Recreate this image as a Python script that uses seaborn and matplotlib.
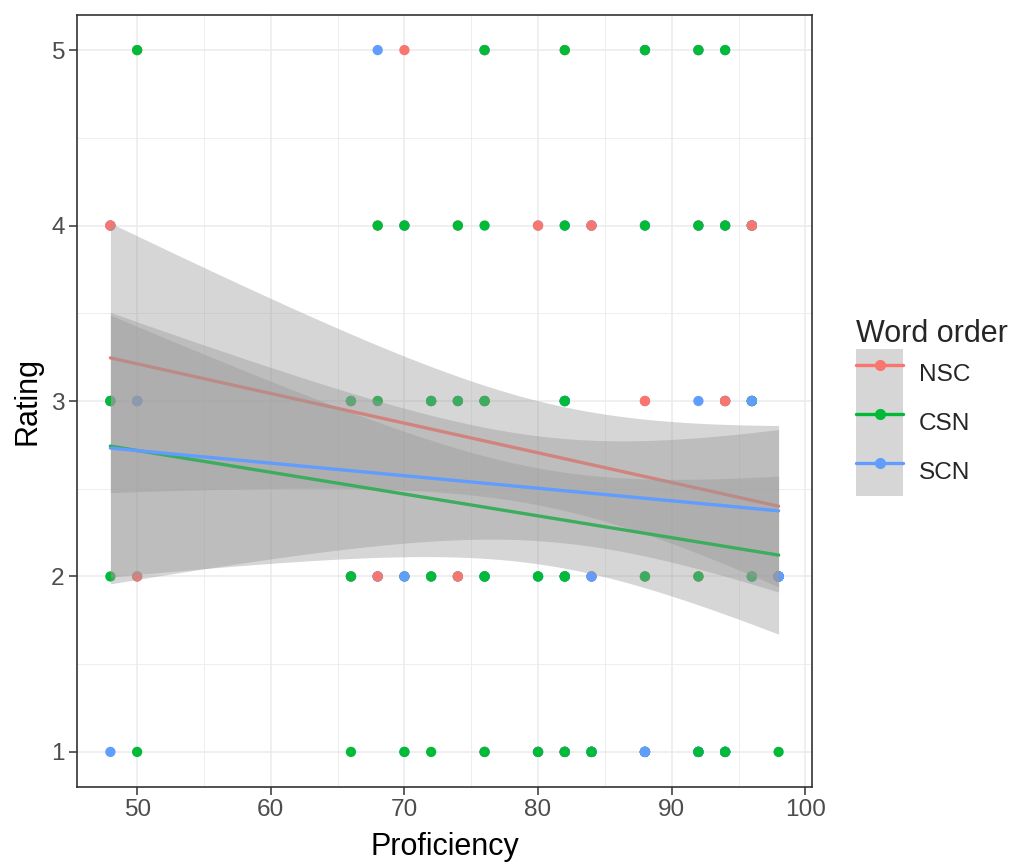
import numpy as np
import pandas as pd
import matplotlib
matplotlib.use("Agg")
import matplotlib.pyplot as plt
import seaborn as sns
from matplotlib.patches import Patch
from matplotlib.lines import Line2D
from matplotlib.legend_handler import HandlerTuple
from matplotlib.ticker import MultipleLocator

# ---------------- data ----------------
word_orders = ["NSC", "CSN", "SCN"]
colors = ["#F8766D", "#00BA38", "#619CFF"]
x_ticks = [50, 60, 70, 80, 90, 100]
y_ticks = [1, 2, 3, 4, 5]

# observations that are visible as points in the plot
nsc_prof = [48, 50, 68, 70, 74, 80, 84, 88, 94, 96]
nsc_rating = [4, 2, 2, 5, 2, 4, 4, 3, 3, 4]

csn_prof = [48, 48, 50, 50, 66, 66, 66, 68, 68, 70, 70, 72, 72, 72, 74, 74,
            76, 76, 76, 76, 76, 80, 80, 82, 82, 82, 82, 82, 84, 88, 88, 88,
            92, 92, 92, 92, 94, 94, 94, 96, 98]
csn_rating = [2, 3, 1, 5, 1, 2, 3, 3, 4, 1, 4, 1, 2, 3, 3, 4,
              1, 2, 3, 4, 5, 1, 2, 1, 2, 3, 4, 5, 1, 2, 4, 5,
              1, 2, 4, 5, 1, 4, 5, 2, 1]

scn_prof = [48, 50, 68, 70, 84, 88, 92, 96, 98]
scn_rating = [1, 3, 5, 2, 2, 1, 3, 3, 2]

# further (overlapping) observations at the same positions, hidden under
# other points; estimated so that the fitted lines match the figure
nsc_extra_prof = [48, 48, 50, 50, 66, 66, 68, 68, 70, 70, 72, 72, 74, 74, 76, 76, 76,
                  80, 82, 82, 82, 84, 84, 84, 88, 88, 88, 88, 92, 92, 92, 92,
                  94, 94, 94, 96, 96, 96, 98]
nsc_extra_rating = [4, 3, 3, 5, 3, 2, 3, 4, 4, 2, 3, 2, 3, 4, 1, 3, 5,
                    1, 1, 3, 5, 4, 2, 1, 3, 2, 1, 5, 4, 2, 1, 5,
                    3, 4, 1, 4, 3, 2, 2]
nsc_extra_count = [1, 1, 1, 1, 1, 2, 1, 1, 1, 1, 2, 1, 1, 1, 1, 1, 1,
                   2, 4, 1, 1, 1, 2, 2, 1, 1, 2, 1, 1, 2, 2, 1,
                   3, 1, 1, 2, 2, 1, 6]

csn_extra_prof = [48, 50, 68, 70, 74, 76, 76, 80, 82, 82, 82, 84, 88, 92, 94,
                  96, 96, 96, 98]
csn_extra_rating = [3, 3, 2, 2, 2, 2, 3, 2, 1, 2, 3, 1, 1, 1, 1,
                    2, 3, 4, 2]
csn_extra_count = [1, 1, 1, 1, 1, 3, 2, 1, 1, 3, 2, 5, 3, 2, 3,
                   1, 3, 1, 5]

scn_extra_prof = [48, 48, 50, 50, 66, 66, 68, 70, 70, 72, 72, 74, 74, 76, 76, 76,
                  80, 80, 80, 82, 82, 82, 82, 84, 84, 84, 88, 88, 88, 88,
                  92, 92, 92, 94, 94, 94, 94, 96, 96, 98]
scn_extra_rating = [4, 3, 3, 2, 2, 3, 2, 1, 4, 3, 2, 3, 2, 1, 2, 5,
                    2, 1, 4, 1, 2, 3, 4, 2, 4, 1, 1, 2, 5, 4,
                    1, 5, 4, 3, 5, 4, 1, 4, 2, 2]
scn_extra_count = [1, 1, 1, 1, 1, 2, 2, 1, 1, 2, 1, 2, 1, 1, 1, 1,
                   1, 1, 1, 2, 1, 2, 1, 1, 2, 2, 2, 1, 1, 1,
                   3, 1, 1, 1, 1, 1, 3, 2, 3, 5]

# ---------------- table ----------------
def frame(prof, rating, order, count=None):
    prof = np.asarray(prof)
    rating = np.asarray(rating)
    if count is not None:
        prof = np.repeat(prof, count)
        rating = np.repeat(rating, count)
    return pd.DataFrame({"Proficiency": prof, "Rating": rating, "Word order": order})

extras = [frame(nsc_extra_prof, nsc_extra_rating, "NSC", nsc_extra_count),
          frame(csn_extra_prof, csn_extra_rating, "CSN", csn_extra_count),
          frame(scn_extra_prof, scn_extra_rating, "SCN", scn_extra_count)]
shown = [frame(nsc_prof, nsc_rating, "NSC"),
         frame(csn_prof, csn_rating, "CSN"),
         frame(scn_prof, scn_rating, "SCN")]
data = pd.concat(extras + shown, ignore_index=True)
data["Proficiency"] = data["Proficiency"].astype(float)
data["Rating"] = data["Rating"].astype(float)


def lm_band(x, y, grid):
    n = len(x)
    mx, my = x.mean(), y.mean()
    sxx = ((x - mx) ** 2).sum()
    b1 = ((x - mx) * (y - my)).sum() / sxx
    b0 = my - b1 * mx
    s = np.sqrt(((y - b0 - b1 * x) ** 2).sum() / (n - 2))
    df = n - 2
    z = 1.959964
    t = z + (z ** 3 + z) / (4 * df) + (5 * z ** 5 + 16 * z ** 3 + 3 * z) / (96 * df ** 2)
    se = s * np.sqrt(1.0 / n + (grid - mx) ** 2 / sxx)
    fit = b0 + b1 * grid
    return fit - t * se, fit + t * se


# ---------------- plot ----------------
sns.set_style("white")
plt.rcParams["font.family"] = ["Liberation Sans", "DejaVu Sans"]

fig = plt.figure(figsize=(10.14, 8.66), dpi=100)
ax = fig.add_axes([77 / 1014, 1 - 787 / 866, (812 - 77) / 1014, (787 - 15) / 866])

sns.scatterplot(data=data, x="Proficiency", y="Rating", hue="Word order",
                hue_order=word_orders, palette=colors, s=55, linewidth=0,
                legend=False, ax=ax, zorder=1)

for i, (w, c) in enumerate(zip(word_orders, colors)):
    g = data[data["Word order"] == w]
    x = g["Proficiency"].to_numpy()
    y = g["Rating"].to_numpy()
    grid = np.linspace(x.min(), x.max(), 80)
    lo, hi = lm_band(x, y, grid)
    ax.fill_between(grid, lo, hi, color="#999999", alpha=0.4, linewidth=0,
                    zorder=2 + 2 * i)
    sns.regplot(data=g, x="Proficiency", y="Rating", scatter=False, ci=None,
                color=c, truncate=True,
                line_kws={"linewidth": 2.4, "zorder": 3 + 2 * i}, ax=ax)

ax.set_xlim(45.5, 100.5)
ax.set_ylim(0.8, 5.2)
ax.set_xticks(x_ticks)
ax.set_yticks(y_ticks)
ax.xaxis.set_minor_locator(MultipleLocator(5))
ax.yaxis.set_minor_locator(MultipleLocator(0.5))
ax.set_axisbelow(True)
ax.grid(which="major", color="#EBEBEB", linewidth=1.1)
ax.grid(which="minor", color="#EBEBEB", linewidth=0.6)
for sp in ax.spines.values():
    sp.set_visible(True)
    sp.set_color("#333333")
    sp.set_linewidth(1.2)
ax.tick_params(which="major", length=5.8, width=1.1, color="#333333",
               labelcolor="#4D4D4D", labelsize=17.6, pad=3,
               bottom=True, left=True)
ax.tick_params(which="minor", length=0)
ax.set_xlabel("Proficiency", fontsize=22, labelpad=8, color="black")
ax.set_ylabel("Rating", fontsize=22, labelpad=6, color="black")

handles = [(Patch(facecolor="#D6D6D6", edgecolor="none"),
            Line2D([], [], color=c, linewidth=2.4, marker="o", markersize=7))
           for c in colors]
fig.legend(handles=handles, labels=word_orders,
           handler_map={tuple: HandlerTuple(ndivide=1, pad=0)},
           loc="upper left", bbox_to_anchor=(856 / 1014, 1 - 319 / 866),
           frameon=False, title="Word order", title_fontsize=22, fontsize=17.6,
           borderpad=0, borderaxespad=0, labelspacing=0, handlelength=1.93,
           handleheight=2.7, handletextpad=0.65, alignment="left")

fig.savefig("out.png", dpi=100, facecolor="white")
